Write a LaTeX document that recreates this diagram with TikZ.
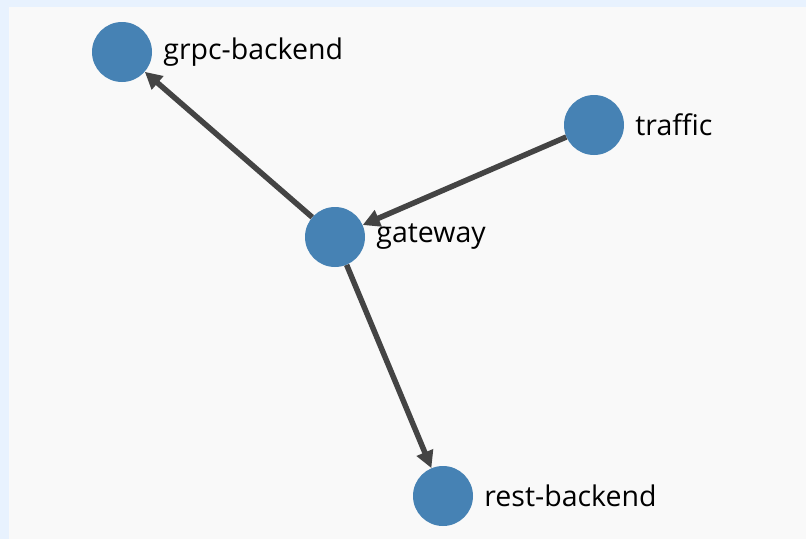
\documentclass[tikz,border=0pt]{standalone}
\usepackage{fontspec}
\setmainfont{Open Sans}
\usetikzlibrary{arrows.meta}
\definecolor{nodeblue}{HTML}{4682B4}
\definecolor{edgegray}{HTML}{444444}
\definecolor{outerblue}{HTML}{E8F2FE}
\definecolor{panelgray}{HTML}{F9F9F9}

\begin{document}
\begin{tikzpicture}[x=1pt,y=-1pt,
		service/.style={circle, fill=nodeblue, minimum size=60pt, inner sep=0pt},
		lbl/.style={font=\fontsize{28.5}{32}\selectfont, inner sep=0pt, label distance=11pt},
		flow/.style={-{Triangle[length=17pt,width=17pt]}, draw=edgegray, line width=5.5pt}]
				% frame
				\fill[outerblue] (0,0) rectangle (806,539);
				\fill[panelgray] (9,7) rectangle (806,539);
				\useasboundingbox (0,0) rectangle (806,539);

				\node[service, label={[lbl]right:grpc-backend}] (G) at (122,52)  {};
				\node[service, label={[lbl]right:traffic}]      (T) at (594,125) {};
				\node[service, label={[lbl]right:gateway}]      (W) at (335,237) {};
				\node[service, label={[lbl]right:rest-backend}] (R) at (443,496) {};

				\path (W)	edge[flow] 	(G)
							edge[flow] 	(R)
					  (T)	edge[flow] 	(W);

			\end{tikzpicture}
\end{document}
